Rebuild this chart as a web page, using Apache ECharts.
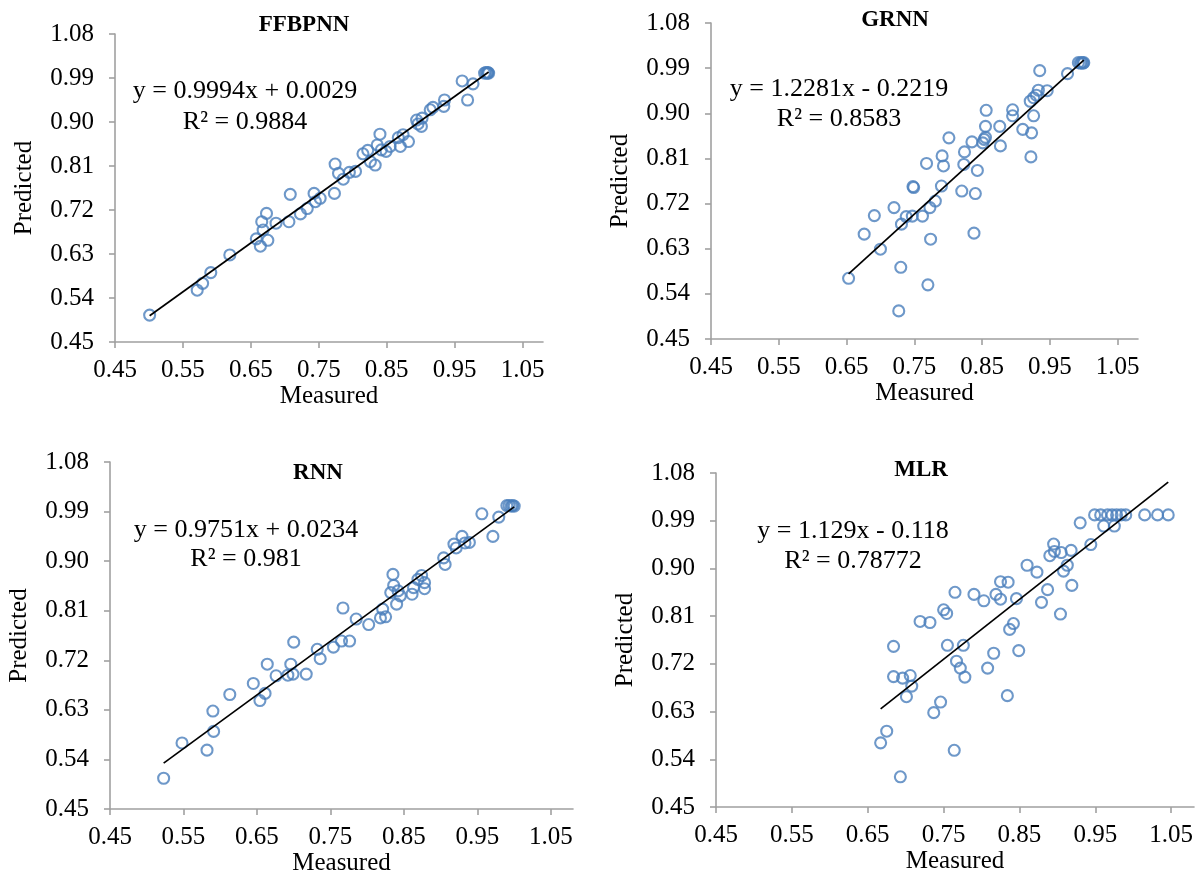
<!DOCTYPE html>
<html>
<head>
<meta charset="utf-8">
<script src="https://cdn.jsdelivr.net/npm/echarts@6/dist/echarts.min.js"></script>
<style>
html, body { margin: 0; padding: 0; background: #fff; }
#chart { width: 1200px; height: 877px; }
</style>
</head>
<body>
<div id="chart"></div>
<script>
// axis ticks, same for all panels
const xTicks = [0.45, 0.55, 0.65, 0.75, 0.85, 0.95, 1.05];
const yTicks = [0.45, 0.54, 0.63, 0.72, 0.81, 0.90, 0.99, 1.08];

const panelTitles = ['FFBPNN', 'GRNN', 'RNN', 'MLR'];
const equations = ['y = 0.9994x + 0.0029', 'y = 1.2281x - 0.2219', 'y = 0.9751x + 0.0234', 'y = 1.129x - 0.118'];
const r2Labels = ['R\u00b2 = 0.9884', 'R\u00b2 = 0.8583', 'R\u00b2 = 0.981', 'R\u00b2 = 0.78772'];
const slopes = [0.9994, 1.2281, 0.9751, 1.129];
const intercepts = [0.0029, -0.2219, 0.0234, -0.118];

const ffbpnnMeasured = [0.501, 0.571, 0.579, 0.591, 0.619, 0.658, 0.664, 0.666, 0.668, 0.673, 0.675, 0.687, 0.706, 0.708, 0.723, 0.733, 0.743, 0.745, 0.752, 0.773, 0.774, 0.779, 0.786, 0.795, 0.804, 0.815, 0.822, 0.826, 0.833, 0.836, 0.840, 0.842, 0.849, 0.855, 0.867, 0.870, 0.874, 0.882, 0.894, 0.896, 0.901, 0.902, 0.914, 0.918, 0.934, 0.935, 0.961, 0.969, 0.977, 0.994, 0.996, 0.998, 0.999, 1.000];
const ffbpnnPredicted = [0.505, 0.556, 0.570, 0.592, 0.628, 0.661, 0.646, 0.696, 0.679, 0.713, 0.658, 0.693, 0.696, 0.752, 0.712, 0.723, 0.754, 0.737, 0.744, 0.754, 0.814, 0.795, 0.783, 0.797, 0.799, 0.835, 0.842, 0.819, 0.812, 0.853, 0.875, 0.843, 0.840, 0.850, 0.868, 0.850, 0.874, 0.860, 0.904, 0.896, 0.891, 0.908, 0.925, 0.930, 0.932, 0.945, 0.984, 0.945, 0.978, 1.000, 1.001, 1.000, 1.001, 1.000];

const grnnMeasured = [0.653, 0.676, 0.691, 0.700, 0.720, 0.727, 0.730, 0.731, 0.738, 0.747, 0.748, 0.749, 0.762, 0.768, 0.770, 0.773, 0.774, 0.781, 0.790, 0.791, 0.793, 0.801, 0.820, 0.823, 0.824, 0.835, 0.838, 0.840, 0.843, 0.851, 0.853, 0.855, 0.856, 0.855, 0.876, 0.877, 0.895, 0.895, 0.910, 0.922, 0.923, 0.926, 0.921, 0.926, 0.930, 0.933, 0.935, 0.946, 0.976, 0.992, 0.995, 0.997, 0.999, 1.000];
const grnnPredicted = [0.571, 0.659, 0.696, 0.629, 0.712, 0.506, 0.593, 0.679, 0.694, 0.695, 0.754, 0.752, 0.695, 0.800, 0.558, 0.712, 0.649, 0.725, 0.755, 0.815, 0.795, 0.851, 0.745, 0.798, 0.823, 0.843, 0.661, 0.740, 0.786, 0.841, 0.848, 0.852, 0.906, 0.874, 0.874, 0.835, 0.907, 0.895, 0.868, 0.813, 0.861, 0.895, 0.924, 0.931, 0.936, 0.946, 0.985, 0.945, 0.979, 1.001, 1.000, 1.001, 1.000, 1.001];

const rnnMeasured = [0.523, 0.548, 0.582, 0.590, 0.591, 0.613, 0.645, 0.654, 0.661, 0.664, 0.676, 0.692, 0.696, 0.699, 0.700, 0.717, 0.732, 0.736, 0.754, 0.765, 0.767, 0.776, 0.785, 0.802, 0.818, 0.821, 0.825, 0.832, 0.835, 0.836, 0.840, 0.842, 0.845, 0.861, 0.863, 0.869, 0.874, 0.878, 0.878, 0.904, 0.906, 0.918, 0.921, 0.929, 0.933, 0.939, 0.956, 0.971, 0.979, 0.990, 0.993, 0.996, 0.998, 1.000];
const rnnPredicted = [0.506, 0.570, 0.557, 0.628, 0.591, 0.658, 0.678, 0.647, 0.660, 0.713, 0.692, 0.693, 0.713, 0.695, 0.753, 0.695, 0.740, 0.723, 0.744, 0.755, 0.815, 0.755, 0.795, 0.785, 0.797, 0.813, 0.799, 0.843, 0.876, 0.856, 0.822, 0.846, 0.837, 0.840, 0.852, 0.867, 0.874, 0.861, 0.850, 0.906, 0.894, 0.931, 0.924, 0.945, 0.933, 0.934, 0.986, 0.945, 0.980, 1.001, 1.001, 1.000, 1.001, 1.000];

const mlrMeasured = [0.667, 0.675, 0.684, 0.684, 0.693, 0.696, 0.701, 0.706, 0.708, 0.719, 0.732, 0.737, 0.746, 0.750, 0.754, 0.755, 0.764, 0.765, 0.767, 0.772, 0.776, 0.778, 0.790, 0.803, 0.808, 0.816, 0.819, 0.825, 0.825, 0.834, 0.835, 0.837, 0.842, 0.846, 0.849, 0.860, 0.873, 0.879, 0.887, 0.890, 0.895, 0.896, 0.904, 0.905, 0.908, 0.913, 0.918, 0.919, 0.930, 0.944, 0.949, 0.957, 0.961, 0.966, 0.972, 0.975, 0.978, 0.984, 0.990, 1.015, 1.032, 1.046];
const mlrPredicted = [0.571, 0.593, 0.753, 0.696, 0.507, 0.693, 0.658, 0.698, 0.678, 0.800, 0.798, 0.628, 0.648, 0.822, 0.815, 0.755, 0.557, 0.855, 0.725, 0.712, 0.755, 0.695, 0.851, 0.839, 0.712, 0.740, 0.851, 0.842, 0.875, 0.660, 0.874, 0.785, 0.796, 0.843, 0.745, 0.906, 0.893, 0.836, 0.860, 0.924, 0.946, 0.932, 0.814, 0.930, 0.895, 0.906, 0.934, 0.868, 0.986, 0.945, 1.001, 1.001, 0.980, 1.001, 1.001, 0.980, 1.001, 1.001, 1.001, 1.001, 1.001, 1.001];

const measuredSets = [ffbpnnMeasured, grnnMeasured, rnnMeasured, mlrMeasured];
const predictedSets = [ffbpnnPredicted, grnnPredicted, rnnPredicted, mlrPredicted];

// pixel layout of the four plot areas
const grids = [
    { left: 115, top: 34, width: 428, height: 308 },
    { left: 711, top: 23, width: 427, height: 316 },
    { left: 110, top: 462, width: 463, height: 350 },
    { left: 716, top: 473, width: 478, height: 334 }
];
const titlePos = [[299, 9], [890, 4], [313, 457], [916, 454]];
const eqPos = [[245, 91, 122], [839, 89, 119], [246, 530, 559], [853, 531, 561]];

const FONT = '"Liberation Serif", "Times New Roman", serif';
const AXIS_COLOR = '#a0a0a0';
const DOT_COLOR = '#4a7ebb';

const chart = echarts.init(document.getElementById('chart'));

const xAxes = [], yAxes = [], series = [], titles = [], texts = [];
grids.forEach((g, i) => {
    const axisCommon = {
        min: 0.45,
        max: 1.08,
        gridIndex: i,
        nameLocation: 'middle',
        nameTextStyle: { fontFamily: FONT, fontSize: 25, color: '#000' },
        axisLine: { show: true, onZero: false, lineStyle: { color: AXIS_COLOR, width: 1.6 } },
        splitLine: { show: false },
        axisLabel: { fontFamily: FONT, fontSize: 25, color: '#000', formatter: v => v.toFixed(2) }
    };
    xAxes.push(Object.assign({}, axisCommon, {
        type: 'value',
        name: 'Measured',
        nameGap: 38,
        axisTick: { show: true, length: 6, lineStyle: { color: AXIS_COLOR, width: 1.6 }, customValues: xTicks },
        axisLabel: Object.assign({}, axisCommon.axisLabel, { margin: 16, customValues: xTicks })
    }));
    yAxes.push(Object.assign({}, axisCommon, {
        type: 'value',
        name: 'Predicted',
        nameGap: 78,
        axisTick: { show: true, length: 6, lineStyle: { color: AXIS_COLOR, width: 1.6 }, customValues: yTicks },
        axisLabel: Object.assign({}, axisCommon.axisLabel, { margin: 21, customValues: yTicks })
    }));

    const xs = measuredSets[i], ys = predictedSets[i];
    series.push({
        type: 'scatter',
        xAxisIndex: i,
        yAxisIndex: i,
        symbol: 'circle',
        symbolSize: 11,
        itemStyle: { color: 'rgba(0,0,0,0)', borderColor: DOT_COLOR, borderWidth: 2.1 },
        data: xs.map((x, k) => [x, ys[k]]),
        z: 3
    });
    // linear trendline across the measured range
    const x0 = Math.min(...xs), x1 = Math.max(...xs);
    series.push({
        type: 'line',
        xAxisIndex: i,
        yAxisIndex: i,
        symbol: 'none',
        lineStyle: { color: '#000', width: 1.7 },
        data: [[x0, slopes[i] * x0 + intercepts[i]], [x1, slopes[i] * x1 + intercepts[i]]],
        z: 4
    });

    titles.push({
        text: panelTitles[i],
        left: titlePos[i][0],
        top: titlePos[i][1],
        textAlign: 'center',
        textStyle: { fontFamily: FONT, fontSize: 23, fontWeight: 'bold', color: '#000' }
    });
    texts.push({
        type: 'text', x: eqPos[i][0], y: eqPos[i][1],
        style: { text: equations[i], font: '26px ' + FONT, fill: '#000', textAlign: 'center', textVerticalAlign: 'middle' }
    });
    texts.push({
        type: 'text', x: eqPos[i][0], y: eqPos[i][2],
        style: { text: r2Labels[i], font: '26px ' + FONT, fill: '#000', textAlign: 'center', textVerticalAlign: 'middle' }
    });
});

chart.setOption({
    backgroundColor: '#fff',
    animation: false,
    title: titles,
    grid: grids,
    xAxis: xAxes,
    yAxis: yAxes,
    series: series,
    graphic: texts
});
</script>
</body>
</html>
